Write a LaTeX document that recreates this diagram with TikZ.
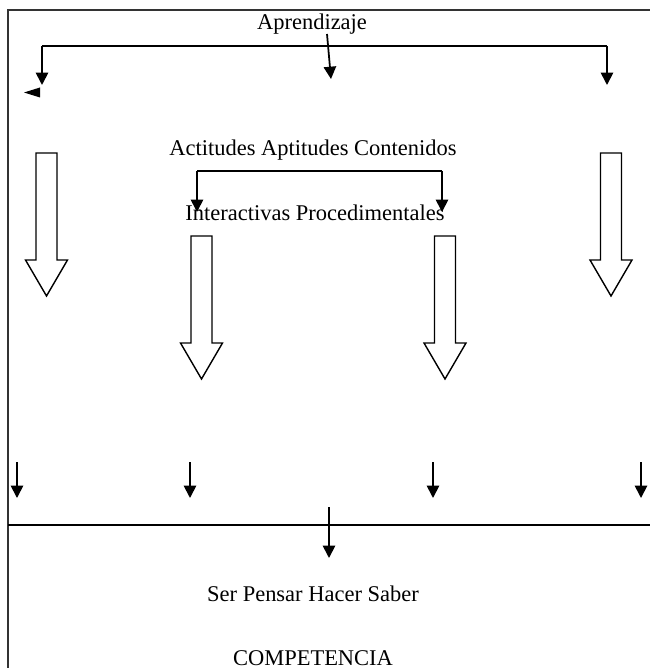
\documentclass[tikz,border=0pt]{standalone}
\usepackage{fontspec}
\setmainfont{Liberation Serif}
\usetikzlibrary{arrows.meta, positioning}

\tikzset{
	txt/.style={inner sep=0pt, anchor=base, font=\fontsize{12.8}{15}\selectfont},
	arr/.style={line width=1pt, -{Triangle[width=7pt, length=7pt]}},
	brk/.style={line width=1pt},
	hollow/.style={line width=0.8pt, line join=miter, fill=white}
}

\begin{document}
\begin{tikzpicture}[x=0.02cm, y=-0.02cm]
	\useasboundingbox (0, 0) rectangle (650, 668);
	% frame
	\draw[line width=0.6pt, black!80] (8, 668) -- (8, 10) -- (650, 10);
	\draw[line width=0.8pt] (8, 525) -- (650, 525);

	% texts
	\node[txt] (aprend) at (312, 30) {Aprendizaje};
	\node[txt] (actit) at (313, 156) {Actitudes Aptitudes Contenidos};
	\node[txt] (inter) at (315, 221) {Interactivas Procedimentales};
	\node[txt] (ser) at (313, 601) {Ser Pensar Hacer Saber};
	\node[txt] (comp) at (313, 665) {COMPETENCIA};

	% top bracket
	\coordinate (brL) at (42, 46);
	\coordinate (brR) at (607, 46);
	\coordinate (tipL) at (42, 85);
	\coordinate (tipR) at (607, 85);
	\coordinate (midS) at (327, 34);
	\coordinate (midT) at (331, 79);
	\draw[brk] (brL) -- (brR);
	\draw[arr] (brL) -- (tipL);
	\draw[arr] (brR) -- (tipR);
	\draw[arr] (midS) -- (midT);
	\fill (24, 92.5) -- (40, 87.5) -- (40, 97.5) -- cycle;

	% inner bracket
	\coordinate (ibL) at (197, 171);
	\coordinate (ibR) at (442, 171);
	\coordinate (itL) at (197, 212);
	\coordinate (itR) at (442, 212);
	\draw[brk] (ibL) -- (ibR);
	\draw[arr] (ibL) -- (itL);
	\draw[arr] (ibR) -- (itR);

	% hollow arrows
	\foreach \cx/\ty in {46.5/153, 611/153, 201.5/236, 445/236}
		\draw[hollow] (\cx-10.5, \ty) -- (\cx-10.5, \ty+107) -- (\cx-21, \ty+107)
			-- (\cx, \ty+143) -- (\cx+21, \ty+107) -- (\cx+10.5, \ty+107)
			-- (\cx+10.5, \ty) -- cycle;

	% small arrows above the line
	\foreach \x in {17, 190, 433, 641}
		\draw[arr] (\x, 462) -- (\x, 498);
	\coordinate (lowS) at (329, 507);
	\coordinate (lowT) at (329, 558);
	\draw[arr] (lowS) -- (lowT);
\end{tikzpicture}
\end{document}
